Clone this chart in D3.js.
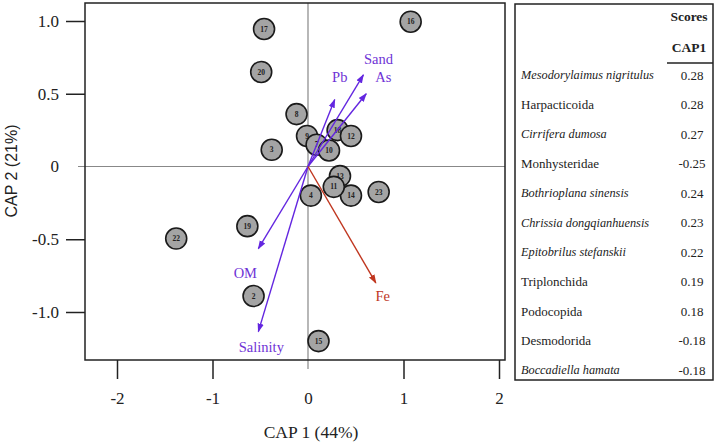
<!DOCTYPE html>
<html lang="en">
<head>
  <meta charset="UTF-8">
  <title>CAP ordination</title>
  <script src="https://d3js.org/d3.v7.min.js"></script>
  <style>
    body { margin: 0; background: #fff; }
    text { font-family: "Liberation Serif", "Times New Roman", serif; }
  </style>
</head>
<body>
  <script>
    // Site scores
    var sites = ["13", "14", "11", "2", "3", "4", "8", "9", "7", "10", "18", "12", "15", "16", "17", "19", "20", "22", "23"];
    var cap1 = [0.335, 0.45, 0.27, -0.57, -0.38, 0.03, -0.12, -0.01, 0.09, 0.22, 0.31, 0.45, 0.11, 1.075, -0.46, -0.635, -0.49, -1.38, 0.74];
    var cap2 = [-0.066, -0.20, -0.14, -0.89, 0.115, -0.20, 0.36, 0.21, 0.15, 0.11, 0.25, 0.21, -1.20, 0.995, 0.945, -0.41, 0.65, -0.495, -0.175];

    // Environmental vectors
    var vars = ["Pb", "Sand", "As", "OM", "Salinity", "Fe"];
    var vecX = [0.28, 0.58, 0.61, -0.52, -0.52, 0.71];
    var vecY = [0.46, 0.63, 0.50, -0.565, -1.135, -0.80];

    // Tick labels
    var xTicks = [-2, -1, 0, 1, 2];
    var yTicks = [-1, -0.5, 0, 0.5, 1];
    var yTickLabels = ["-1.0", "-0.5", "0", "0.5", "1.0"];

    // Table
    var taxa = ["Mesodorylaimus nigritulus", "Harpacticoida", "Cirrifera dumosa", "Monhysteridae",
      "Bothrioplana sinensis", "Chrissia dongqianhuensis", "Epitobrilus stefanskii", "Triplonchida",
      "Podocopida", "Desmodorida", "Boccadiella hamata"];
    var italic = [true, false, true, false, true, true, true, false, false, false, true];
    var scores = ["0.28", "0.28", "0.27", "-0.25", "0.24", "0.23", "0.22", "0.19", "0.18", "-0.18", "-0.18"];

    var w = 717, h = 444;
    var box = { left: 85, right: 505, top: 3, bottom: 360 };
    var purple = "#6326e0", purpleText = "#6f33d6", red = "#c0361f";

    var svg = d3.select("body").append("svg")
      .attr("width", w).attr("height", h);

    var x = d3.scaleLinear().domain([-2, 2]).range([117, 499]);
    var y = d3.scaleLinear().domain([-1, 1]).range([312, 21]);

    // arrow markers
    var defs = svg.append("defs");
    [["arrP", purple], ["arrR", red]].forEach(function(m) {
      defs.append("marker")
        .attr("id", m[0])
        .attr("viewBox", "0 0 10 10")
        .attr("refX", 9).attr("refY", 5)
        .attr("markerUnits", "userSpaceOnUse")
        .attr("markerWidth", 9).attr("markerHeight", 9)
        .attr("orient", "auto")
        .append("path")
        .attr("d", "M0,1.5 L10,5 L0,8.5 Z")
        .attr("fill", m[1]);
    });

    // zero lines
    svg.append("line")
      .attr("x1", 78).attr("x2", box.right)
      .attr("y1", y(0)).attr("y2", y(0))
      .attr("stroke", "#888").attr("stroke-width", 1.2);
    svg.append("line")
      .attr("x1", x(0)).attr("x2", x(0))
      .attr("y1", box.top).attr("y2", 369)
      .attr("stroke", "#888").attr("stroke-width", 1.2);

    // plot frame
    svg.append("rect")
      .attr("x", box.left).attr("y", box.top)
      .attr("width", box.right - box.left).attr("height", box.bottom - box.top)
      .attr("fill", "none").attr("stroke", "#222").attr("stroke-width", 1.5);

    // y axis
    var yAxis = d3.axisLeft(y)
      .tickValues(yTicks)
      .tickSize(19).tickPadding(7)
      .tickFormat(function(d, i) { return yTickLabels[i]; });
    var gy = svg.append("g")
      .attr("transform", "translate(" + box.left + ",0)")
      .call(yAxis);
    gy.select(".domain").remove();
    gy.selectAll(".tick line").attr("stroke", "#222").attr("stroke-width", 1.5)
      .filter(function(d) { return d === 0; }).remove();
    gy.selectAll(".tick text")
      .style("font-family", "Liberation Serif, serif")
      .style("font-size", "17px").attr("fill", "#222");

    // x axis
    var xAxis = d3.axisBottom(x)
      .tickValues(xTicks)
      .tickSize(19).tickPadding(13)
      .tickFormat(function(d) { return String(d); });
    var gx = svg.append("g")
      .attr("transform", "translate(0," + box.bottom + ")")
      .call(xAxis);
    gx.select(".domain").remove();
    gx.selectAll(".tick line").attr("stroke", "#222").attr("stroke-width", 1.5)
      .filter(function(d) { return d === 0; }).remove();
    gx.selectAll(".tick text")
      .style("font-family", "Liberation Serif, serif")
      .style("font-size", "17px").attr("fill", "#222");

    // axis titles
    svg.append("text")
      .attr("x", 311).attr("y", 438)
      .attr("text-anchor", "middle")
      .style("font-size", "17.5px").attr("fill", "#222")
      .text("CAP 1 (44%)");
    svg.append("text")
      .attr("transform", "translate(17,171) rotate(-90)")
      .attr("text-anchor", "middle")
      .style("font-family", "Liberation Sans, Arial, sans-serif")
      .style("font-size", "16px").attr("fill", "#222")
      .text("CAP 2 (21%)");

    // site points
    var pts = svg.append("g").selectAll("g")
      .data(sites)
      .enter().append("g")
      .attr("transform", function(d, i) { return "translate(" + x(cap1[i]) + "," + y(cap2[i]) + ")"; });
    pts.append("circle")
      .attr("r", 10.5)
      .attr("fill", "#a4a4a4")
      .attr("stroke", "#1a1a1a").attr("stroke-width", 1.6);
    pts.append("text")
      .attr("text-anchor", "middle")
      .attr("dy", "0.35em")
      .style("font-size", "7.5px").style("font-weight", "bold")
      .attr("fill", "#222")
      .text(function(d) { return d; });

    // environmental vectors
    var labelOff = [[5, -23], [15, -16], [17, -17], [-13, 24], [3, 15], [7, 13]];
    var vg = svg.append("g").selectAll("g")
      .data(vars)
      .enter().append("g");
    vg.append("line")
      .attr("x1", x(0)).attr("y1", y(0))
      .attr("x2", function(d, i) { return x(vecX[i]); })
      .attr("y2", function(d, i) { return y(vecY[i]); })
      .attr("stroke", function(d) { return d === "Fe" ? red : purple; })
      .attr("stroke-width", 1.4)
      .attr("marker-end", function(d) { return d === "Fe" ? "url(#arrR)" : "url(#arrP)"; });
    vg.append("text")
      .attr("x", function(d, i) { return x(vecX[i]) + labelOff[i][0]; })
      .attr("y", function(d, i) { return y(vecY[i]) + labelOff[i][1]; })
      .attr("dy", "0.35em")
      .attr("text-anchor", "middle")
      .style("font-size", "14.5px")
      .attr("fill", function(d) { return d === "Fe" ? red : purpleText; })
      .text(function(d) { return d; });

    // scores table
    var tb = { left: 515, right: 713, top: 4, bottom: 380 };
    svg.append("rect")
      .attr("x", tb.left).attr("y", tb.top)
      .attr("width", tb.right - tb.left).attr("height", tb.bottom - tb.top)
      .attr("fill", "none").attr("stroke", "#222").attr("stroke-width", 1.5);
    svg.append("text")
      .attr("x", 689).attr("y", 16).attr("dy", "0.35em")
      .attr("text-anchor", "middle")
      .style("font-size", "13.5px").style("font-weight", "bold").attr("fill", "#222")
      .text("Scores");
    svg.append("text")
      .attr("x", 689).attr("y", 47).attr("dy", "0.35em")
      .attr("text-anchor", "middle")
      .style("font-size", "13.5px").style("font-weight", "bold").attr("fill", "#222")
      .text("CAP1");
    svg.append("line")
      .attr("x1", 667).attr("x2", tb.right)
      .attr("y1", 63).attr("y2", 63)
      .attr("stroke", "#222").attr("stroke-width", 1.5);

    var rowY = d3.scalePoint().domain(d3.range(taxa.length)).range([75, 370]);
    var rows = svg.append("g").selectAll("g")
      .data(taxa)
      .enter().append("g")
      .attr("transform", function(d, i) { return "translate(0," + rowY(i) + ")"; });
    rows.append("text")
      .attr("x", 521).attr("dy", "0.35em")
      .style("font-size", function(d, i) { return italic[i] ? "12.3px" : "13px"; })
      .style("font-style", function(d, i) { return italic[i] ? "italic" : "normal"; })
      .attr("fill", "#222")
      .text(function(d) { return d; });
    rows.append("text")
      .attr("x", 692).attr("dy", "0.35em")
      .attr("text-anchor", "middle")
      .style("font-size", "13px")
      .attr("fill", "#222")
      .text(function(d, i) { return scores[i]; });
  </script>
</body>
</html>
